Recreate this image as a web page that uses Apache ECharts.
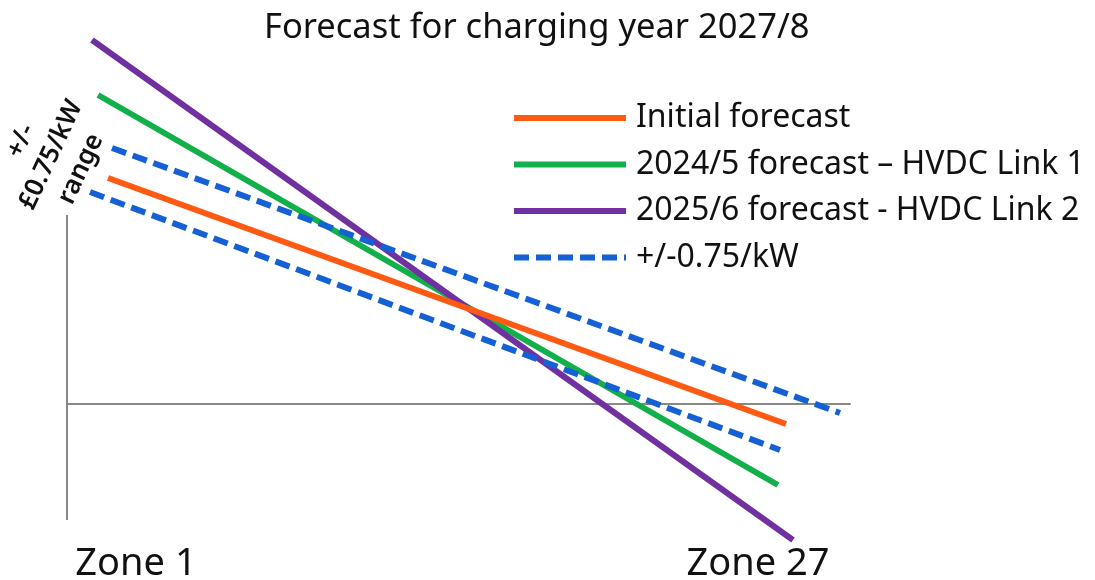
<!DOCTYPE html>
<html>
<head>
<meta charset="utf-8">
<script src="https://cdn.jsdelivr.net/npm/echarts@6/dist/echarts.min.js"></script>
<style>html,body{margin:0;padding:0;background:#fff;}#c{width:1095px;height:580px;}</style>
</head>
<body>
<div id="c"></div>
<script>
// Series names (legend order)
const seriesNames = ['Initial forecast', '2024/5 forecast \u2013 HVDC Link 1', '2025/6 forecast - HVDC Link 2', '+/-0.75/kW'];
// Line endpoints [x, y] (schematic units; x: Zone 1 -> Zone 27)
const initialForecast = [[5.24, 4.52], [91.83, -0.40]];
const link1Forecast = [[3.96, 6.18], [90.80, -1.62]];
const link2Forecast = [[3.19, 7.28], [92.72, -2.72]];
const upperRange = [[5.75, 5.12], [98.72, -0.18]];
const lowerRange = [[2.94, 4.24], [91.06, -0.92]];
const yAxisSegment = [[0, 3.78], [0, -2.32]];
const zoneLabels = ['Zone 1', 'Zone 27'];
const titleText = 'Forecast for charging year 2027/8';
const rangeLabel = '+/-\n\u00a30.75/kW\nrange';

const FONT = 'Noto Sans';
const chart = echarts.init(document.getElementById('c'));
function line(name, data, color, dashed) {
  return {
    type: 'line', name: name, data: data, symbol: 'none', showSymbol: false, silent: true,
    lineStyle: { color: color, width: 6, type: dashed ? [15, 7] : 'solid', cap: 'butt' },
    itemStyle: { color: color }
  };
}
chart.setOption({
  animation: false,
  backgroundColor: '#fff',
  textStyle: { fontFamily: FONT },
  title: {
    text: titleText, left: 259, top: 6,
    textStyle: { fontFamily: FONT, fontSize: 34.5, fontWeight: 'normal', color: '#111' }
  },
  grid: { left: 67, right: 245, top: 4, bottom: 26 },
  xAxis: {
    type: 'value', min: 0, max: 100,
    axisLine: { show: true, onZero: true, lineStyle: { color: '#888', width: 2 } },
    axisTick: { show: false }, axisLabel: { show: false }, splitLine: { show: false }
  },
  yAxis: {
    type: 'value', min: -3, max: 8,
    axisLine: { show: false }, axisTick: { show: false }, axisLabel: { show: false }, splitLine: { show: false }
  },
  legend: {
    data: seriesNames,
    orient: 'vertical', left: 511, top: 102, padding: 0,
    itemWidth: 112, itemHeight: 14, itemGap: 14.5,
    selectedMode: false,
    itemStyle: { opacity: 0 },
    lineStyle: { width: 6 },
    textStyle: { fontFamily: FONT, fontSize: 32, color: '#111', padding: [0, 0, 0, 5] }
  },
  series: [
    { type: 'line', data: yAxisSegment, symbol: 'none', silent: true, lineStyle: { color: '#888', width: 2 } },
    line(seriesNames[1], link1Forecast, '#12B04A', false),
    line(seriesNames[2], link2Forecast, '#7030A0', false),
    line(seriesNames[0], initialForecast, '#FF5A14', false),
    line(seriesNames[3], upperRange, '#1560D4', true),
    line(seriesNames[3], lowerRange, '#1560D4', true)
  ],
  graphic: [
    { type: 'text', x: 136, y: 564, style: { text: zoneLabels[0], fontFamily: FONT, fontSize: 38, fill: '#111', align: 'center', verticalAlign: 'middle' } },
    { type: 'text', x: 758, y: 564, style: { text: zoneLabels[1], fontFamily: FONT, fontSize: 38, fill: '#111', align: 'center', verticalAlign: 'middle' } },
    { type: 'text', x: 51, y: 155, rotation: 65 * Math.PI / 180,
      style: { text: rangeLabel, fontFamily: FONT, fontSize: 26, fontWeight: 600, lineHeight: 33, fill: '#111', align: 'center', verticalAlign: 'middle' } }
  ]
});
</script>
</body>
</html>
